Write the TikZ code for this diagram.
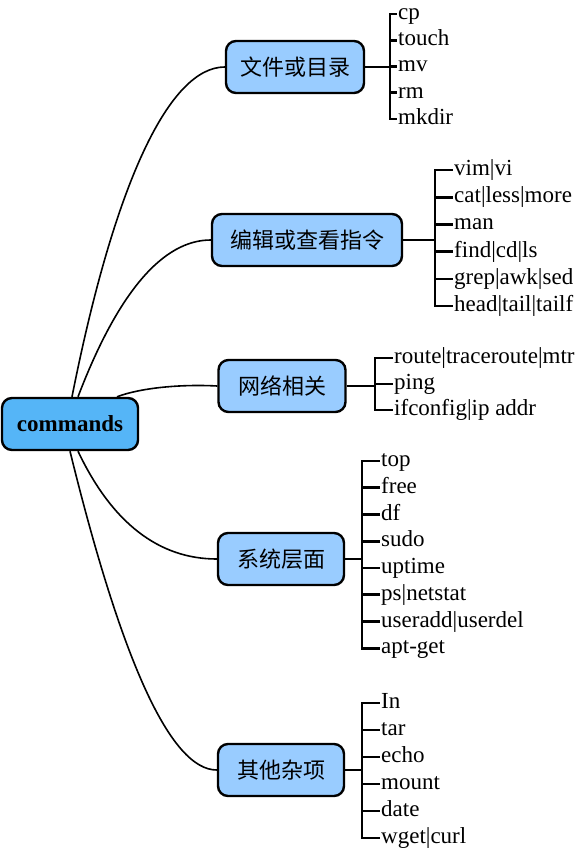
\documentclass[tikz,border=0pt]{standalone}
\usepackage{fontspec}
\setmainfont{Liberation Serif}
\newfontfamily\cjk{Noto Sans CJK SC}
\definecolor{bluradice}{RGB}{85,181,247}
\definecolor{bluramo}{RGB}{153,204,255}

\begin{document}
\begin{tikzpicture}[x=1pt, y=-1pt,
    radice/.style={draw=black, line width=2.4pt, rounded corners=10pt, fill=bluradice,
      minimum height=52pt, inner xsep=15pt, font=\fontsize{23}{25}\selectfont\bfseries},
    ramo/.style={draw=black, line width=2.4pt, rounded corners=10pt, fill=bluramo,
      minimum height=52pt, inner xsep=10pt, font=\fontsize{22}{24}\selectfont\cjk},
    foglia/.style={anchor=west, inner xsep=1pt, inner ysep=0pt, text height=16pt, text depth=5pt,
      font=\fontsize{23}{25}\selectfont},
    curva/.style={line width=1.6pt},
    graffa/.style={line width=2.6pt}]

  \useasboundingbox (0,0) rectangle (576,853);

  \node[radice] (cmd) at (70,424) {commands};

  \node[ramo, minimum width=138pt] (file) at (295,67)  {文件或目录};
  \node[ramo, minimum width=190pt] (edit) at (307,240) {编辑或查看指令};
  \node[ramo, minimum width=127pt] (net)  at (282,386) {网络相关};
  \node[ramo, minimum width=126pt] (sys)  at (281,559) {系统层面};
  \node[ramo, minimum width=126pt] (misc) at (281,770) {其他杂项};

  % curve dalla radice
  \draw[curva] ([xshift=2pt]cmd.north) .. controls (115,180) and (170,67) .. (file.west);
  \draw[curva] ([xshift=8pt]cmd.north) .. controls (118,292) and (163,240) .. (edit.west);
  \draw[curva] ([xshift=47pt]cmd.north) .. controls (140,388) and (180,384) .. (net.west);
  \draw[curva] ([xshift=8pt]cmd.south) .. controls (112,523) and (159,559) .. (sys.west);
  \draw[curva] ([xshift=0pt]cmd.south) .. controls (122,663) and (171,770) .. (misc.west);

  % foglie
  \coordinate (gfile) at (390,67);
  \draw[graffa] (file.east) -- (gfile);
  \foreach \t [count=\i] in {cp,touch,mv,rm,mkdir}
    { \node[foglia] (file\i) at (397,{14+26.25*(\i-1)}) {\t};
      \draw[graffa] (gfile) |- (file\i.west); }

  \coordinate (gedit) at (435,240);
  \draw[graffa] (edit.east) -- (gedit);
  \foreach \t [count=\i] in {vim|vi,cat|less|more,man,find|cd|ls,grep|awk|sed,head|tail|tailf}
    { \node[foglia] (edit\i) at (453,{170+27.2*(\i-1)}) {\t};
      \draw[graffa] (gedit) |- (edit\i.west); }

  \coordinate (gnet) at (375,386);
  \draw[graffa] (net.east) -- (gnet);
  \foreach \t [count=\i] in {route|traceroute|mtr,ping,ifconfig|ip addr}
    { \node[foglia] (net\i) at (393,{358+26*(\i-1)}) {\t};
      \draw[graffa] (gnet) |- (net\i.west); }

  \coordinate (gsys) at (362,559);
  \draw[graffa] (sys.east) -- (gsys);
  \foreach \t [count=\i] in {top,free,df,sudo,uptime,ps|netstat,useradd|userdel,apt-get}
    { \node[foglia] (sys\i) at (380,{461+26.75*(\i-1)}) {\t};
      \draw[graffa] (gsys) |- (sys\i.west); }

  \coordinate (gmisc) at (362,770);
  \draw[graffa] (misc.east) -- (gmisc);
  \foreach \t [count=\i] in {In,tar,echo,mount,date,wget|curl}
    { \node[foglia] (misc\i) at (380,{703+27*(\i-1)}) {\t};
      \draw[graffa] (gmisc) |- (misc\i.west); }
\end{tikzpicture}
\end{document}
